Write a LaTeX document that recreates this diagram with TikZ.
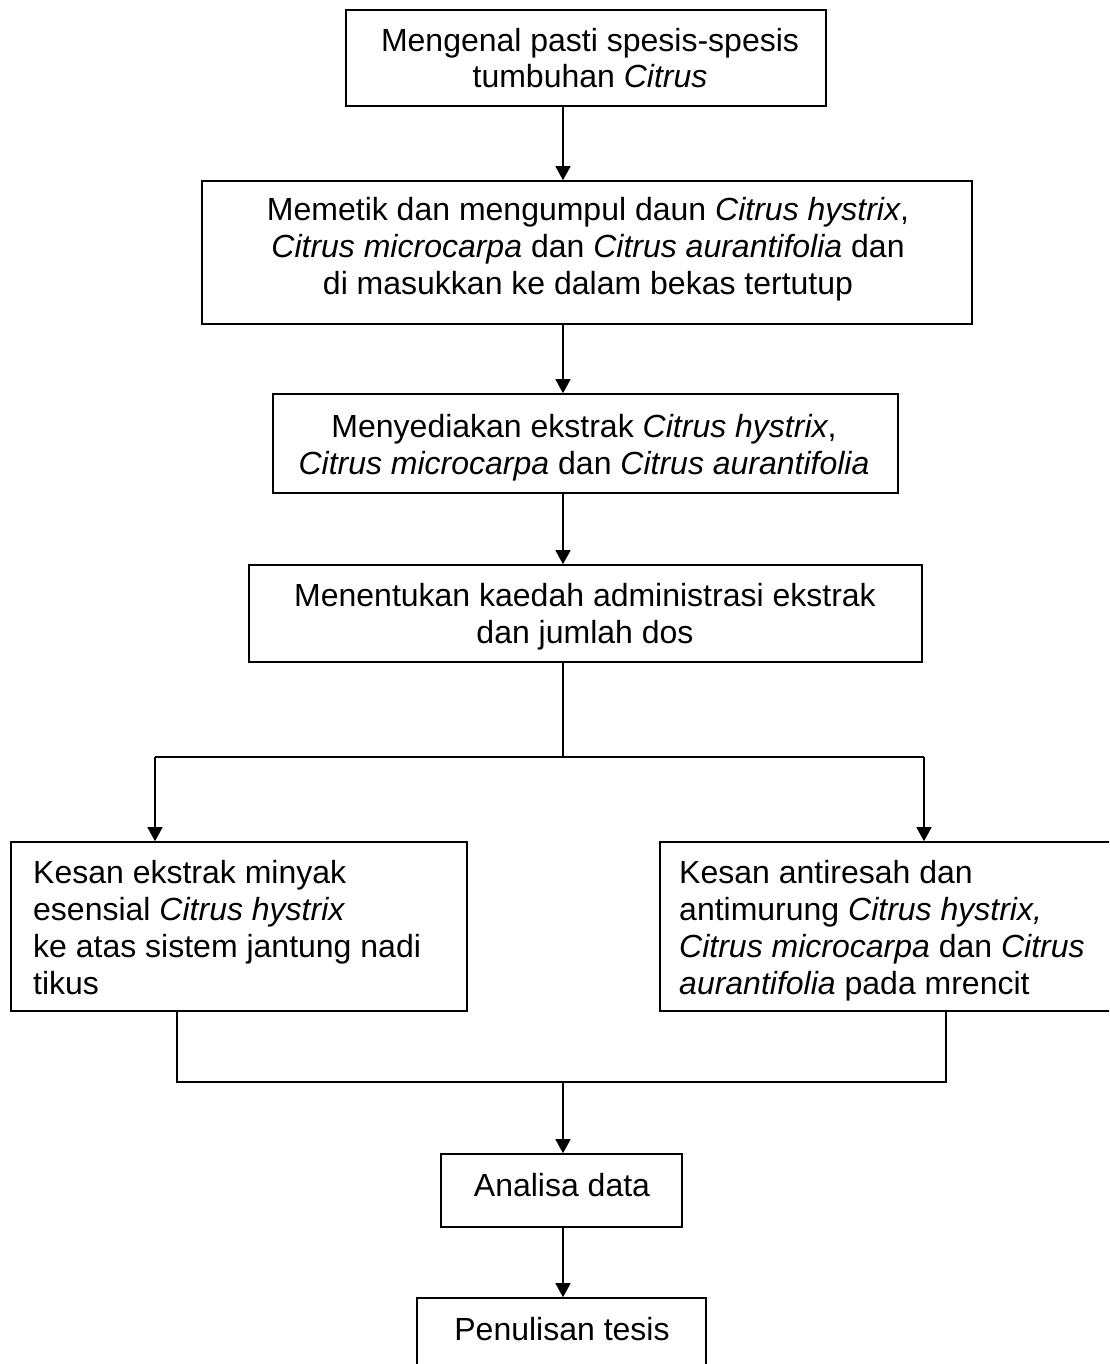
\documentclass[tikz,border=0pt]{standalone}
\usepackage{fontspec}
\setmainfont{Liberation Sans}
\usetikzlibrary{arrows.meta}
\begin{document}
\begin{tikzpicture}[x=1pt,y=-1pt,
  box/.style={draw=black,line width=1.6pt,rectangle,inner sep=0pt},
  txt/.style={inner sep=0pt,font=\fontsize{32}{36.7}\selectfont},
  ctxt/.style={txt,align=center,anchor=base},
  ltxt/.style={txt,align=left,anchor=base west},
  link/.style={draw=black,line width=1.5pt},
  arr/.style={link,-{Triangle[length=14pt,width=15pt]}}]
\useasboundingbox (0,0) rectangle (1109,1364);
\clip (0,0) rectangle (1109,1364);
\fill[white] (0,0) rectangle (1109,1364);
% boxes
\node[box,minimum width=480pt,minimum height=96pt] (b1) at (586,58) {};
\node[box,minimum width=770pt,minimum height=143pt] (b2) at (587,252.5) {};
\node[box,minimum width=625pt,minimum height=99pt] (b3) at (585.5,443.5) {};
\node[box,minimum width=673pt,minimum height=97pt] (b4) at (585.5,613.5) {};
\node[box,minimum width=456pt,minimum height=169pt] (b5) at (239,926.5) {};
\node[box,minimum width=460pt,minimum height=169pt] (b6) at (890,926.5) {};
\node[box,minimum width=241pt,minimum height=73pt] (b7) at (561.5,1190.5) {};
\node[box,minimum width=289pt,minimum height=90pt] (b8) at (561.5,1343) {};
% texts (anchor = baseline of the last line)
\node[ctxt] (t1) at (590,88) {Mengenal pasti spesis-spesis\\tumbuhan \textit{Citrus}};
\node[ctxt] (t2) at (588,294) {Memetik dan mengumpul daun \textit{Citrus hystrix},\\\textit{Citrus microcarpa} dan \textit{Citrus aurantifolia} dan\\di masukkan ke dalam bekas tertutup};
\node[ctxt] (t3) at (584,474) {Menyediakan ekstrak \textit{Citrus hystrix},\\\textit{Citrus microcarpa} dan \textit{Citrus aurantifolia}};
\node[ctxt] (t4) at (585,643) {Menentukan kaedah administrasi ekstrak\\dan jumlah dos};
\node[ltxt] (t5) at (33,994) {Kesan ekstrak minyak\\esensial \textit{Citrus hystrix}\\ke atas sistem jantung nadi\\tikus};
\node[ltxt] (t6) at (679,994) {Kesan antiresah dan\\antimurung \textit{Citrus hystrix,}\\\textit{Citrus microcarpa} dan \textit{Citrus}\\\textit{aurantifolia} pada mrencit};
\node[ctxt] (t7) at (562,1196) {Analisa data};
\node[ctxt] (t8) at (562,1340) {Penulisan tesis};
% connector coordinates
\coordinate (cx) at (563,0);
\coordinate (j1) at (563,757);
\coordinate (l1) at (155,757);
\coordinate (r1) at (924,757);
\coordinate (l2) at (177,1082);
\coordinate (r2) at (946,1082);
\coordinate (j2) at (563,1082);
% connectors
\draw[arr] (b1.south -| cx) -- (b2.north -| cx);
\draw[arr] (b2.south -| cx) -- (b3.north -| cx);
\draw[arr] (b3.south -| cx) -- (b4.north -| cx);
\draw[link] (b4.south -| cx) -- (j1);
\draw[link] (l1) -- (r1);
\draw[arr] (l1) -- (l1 |- b5.north);
\draw[arr] (r1) -- (r1 |- b6.north);
\draw[link] (l2 |- b5.south) -- (l2) -- (r2) -- (r2 |- b6.south);
\draw[arr] (j2) -- (b7.north -| j2);
\draw[arr] (b7.south -| j2) -- (b8.north -| j2);
\end{tikzpicture}
\end{document}
